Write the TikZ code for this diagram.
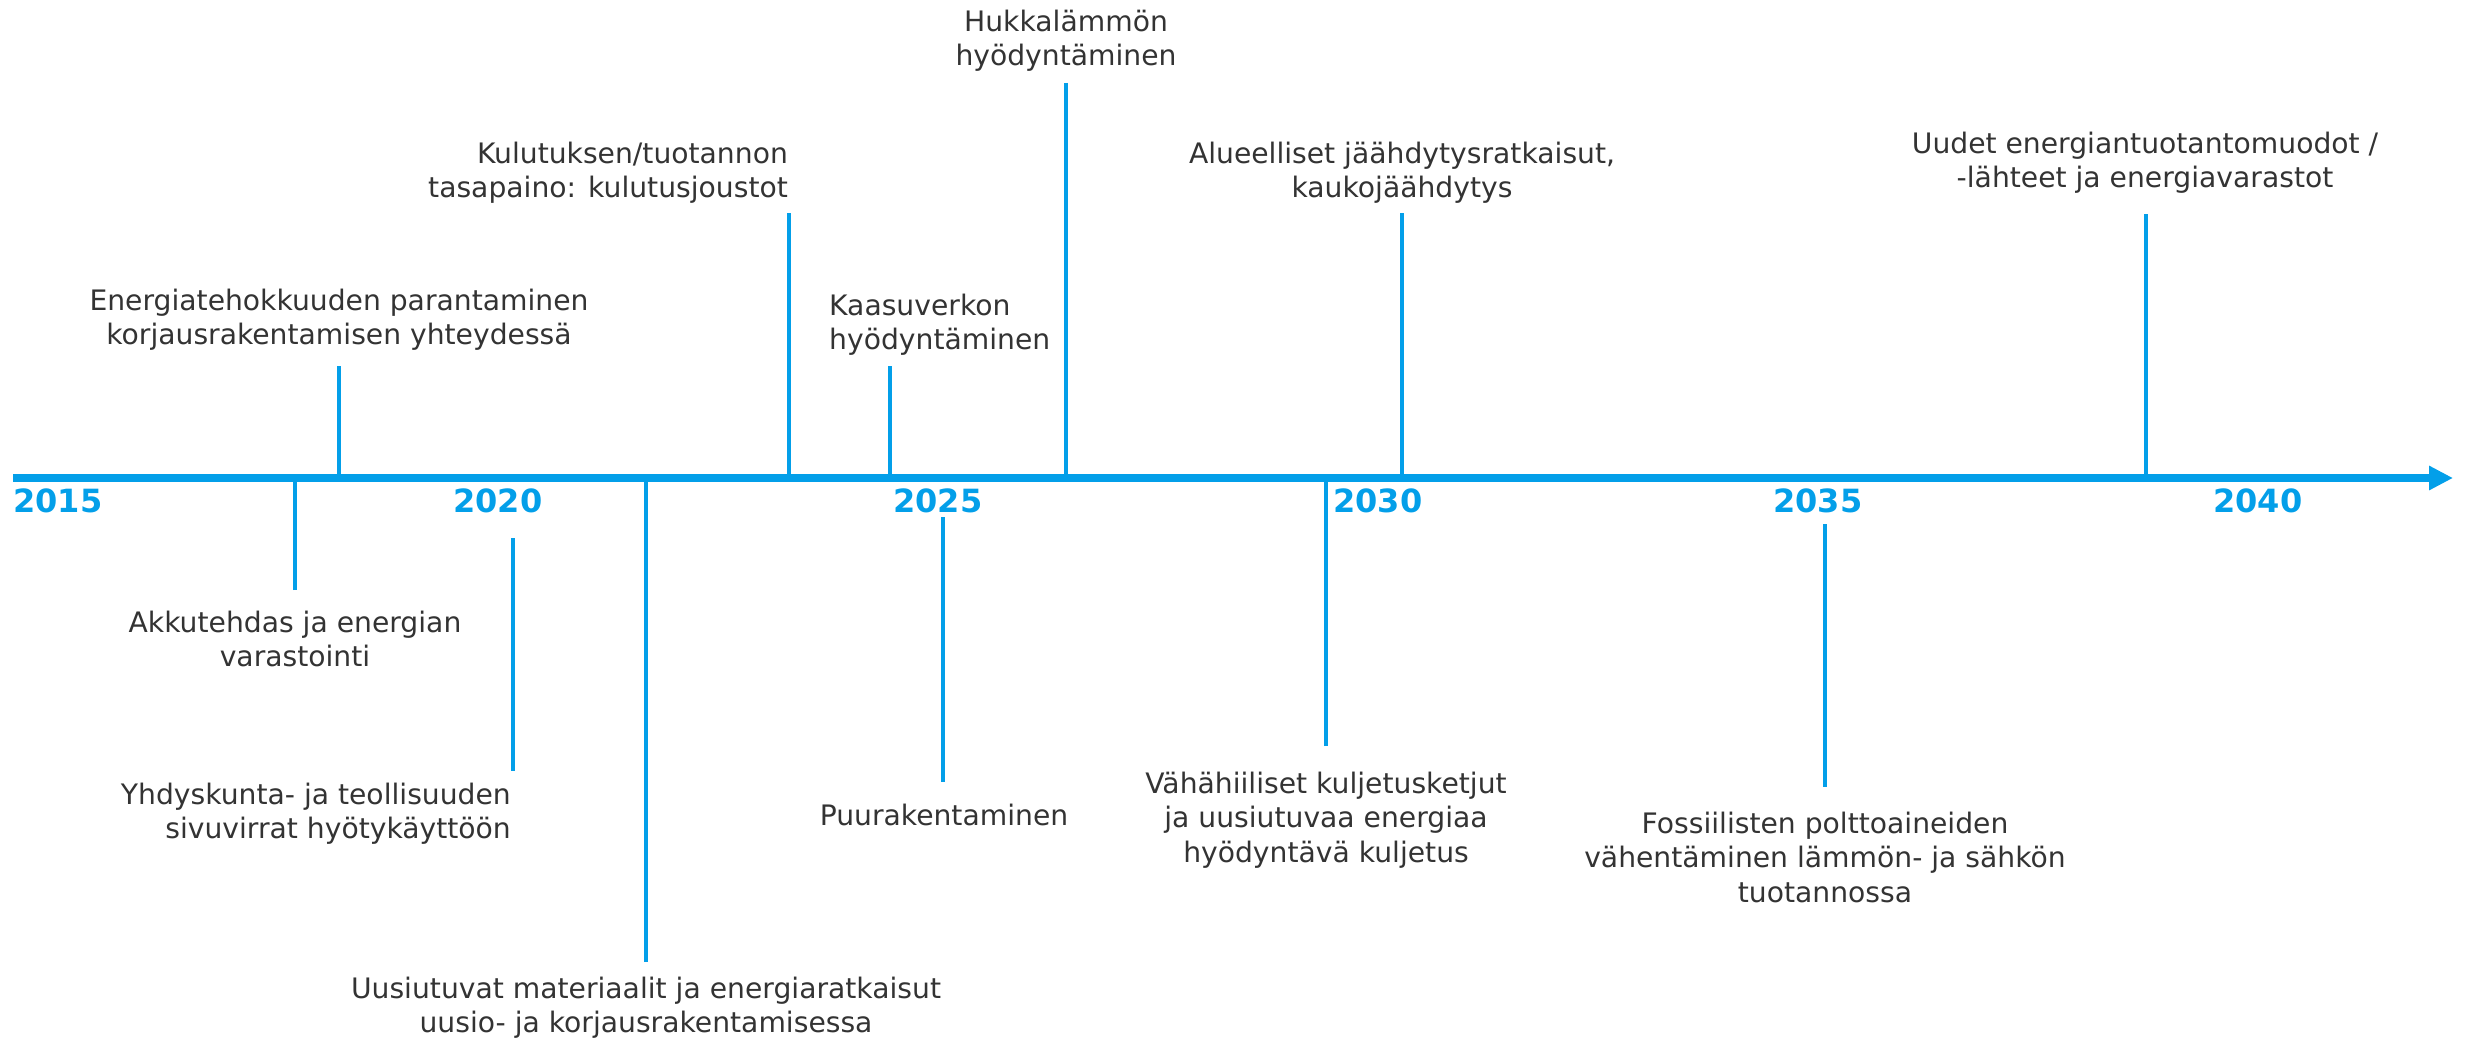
\documentclass[tikz,border=0pt]{standalone}
\usepackage{fontspec}
\setmainfont{DejaVu Sans}
\usepackage{xcolor}
\definecolor{timelineBlue}{HTML}{039FE9}
\definecolor{labelGray}{HTML}{333333}
\usetikzlibrary{arrows.meta}
\tikzset{
    % Main time axis with arrow head
    axis line/.style={
        draw=timelineBlue,
        line width=8pt,
        -{Triangle[length=24pt, width=23pt]},
    },
    % Thin line from the axis to an event
    event tick/.style={
        draw=timelineBlue,
        line width=3.5pt,
    },
    % Year numbers under the axis
    year label/.style={
        font=\fontsize{32}{38}\selectfont\bfseries,
        text=timelineBlue,
        anchor=north west,
        inner sep=0pt,
    },
    % Event texts (base = baseline of the last line)
    event label/.style={
        font=\fontsize{28.2}{34.5}\selectfont,
        text=labelGray,
        align=center,
        inner sep=0pt,
        anchor=base,
    },
}

\begin{document}
\begin{tikzpicture}[x=1pt, y=-1pt]
    \useasboundingbox (0,0) rectangle (2473,1038);

    % axis
    \coordinate (a0) at (13,478);
    \coordinate (a1) at (2453,478);

    % years
    \foreach \yr [count=\i from 0] in {2015,2020,2025,2030,2035,2040}
        \node (y\yr) [year label] at (13+440*\i,489) {\yr};

    % events above the axis
    \node (energy) [event label] at (339,344.5) {Energiatehokkuuden parantaminen\\korjausrakentamisen yhteydessä};
    \node (balance) [event label, align=right, anchor=base east] at (788,197.5) {Kulutuksen/tuotannon\\tasapaino: kulutusjoustot};
    \node (gas) [event label, align=left, anchor=base west] at (829,349.5) {Kaasuverkon\\hyödyntäminen};
    \node (heat) [event label] at (1066,66) {Hukkalämmön\\hyödyntäminen};
    \node (cooling) [event label] at (1402,197.5) {Alueelliset jäähdytysratkaisut,\\kaukojäähdytys};
    \node (newsrc) [event label] at (2145,187.5) {Uudet energiantuotantomuodot /\\-lähteet ja energiavarastot};

    % events below the axis
    \node (battery) [event label] at (295,666.5) {Akkutehdas ja energian\\varastointi};
    \node (sidestr) [event label, align=right, anchor=base east] at (511,838.5) {Yhdyskunta- ja teollisuuden\\sivuvirrat hyötykäyttöön};
    \node (renew) [event label] at (646,1032.5) {Uusiutuvat materiaalit ja energiaratkaisut\\uusio- ja korjausrakentamisessa};
    \node (wood) [event label] at (944,825) {Puurakentaminen};
    \node (transport) [event label] at (1326,862) {Vähähiiliset kuljetusketjut\\ja uusiutuvaa energiaa\\hyödyntävä kuljetus};
    \node (fossil) [event label] at (1825,902) {Fossiilisten polttoaineiden\\vähentäminen lämmön- ja sähkön\\tuotannossa};

    % tick ends
    \coordinate (t-energy) at (339,366);
    \coordinate (t-balance) at (789,213);
    \coordinate (t-gas) at (890,366);
    \coordinate (t-heat) at (1066,83);
    \coordinate (t-cooling) at (1402,213);
    \coordinate (t-newsrc) at (2146,214);
    \coordinate (t-battery) at (295,590);
    \coordinate (t-renew) at (646,962);
    \coordinate (t-transport) at (1326,746);
    \coordinate (s-sidestr) at (513,538);
    \coordinate (t-sidestr) at (513,771);
    \coordinate (s-wood) at (943,517);
    \coordinate (t-wood) at (943,782);
    \coordinate (s-fossil) at (1825,524);
    \coordinate (t-fossil) at (1825,787);

    \foreach \ev in {energy,balance,gas,heat,cooling,newsrc,battery,renew,transport}
        \draw [event tick] (t-\ev) -- (t-\ev |- a0);
    \foreach \ev in {sidestr,wood,fossil}
        \draw [event tick] (s-\ev) -- (t-\ev);

    \draw [axis line] (a0) -- (a1);
\end{tikzpicture}
\end{document}
